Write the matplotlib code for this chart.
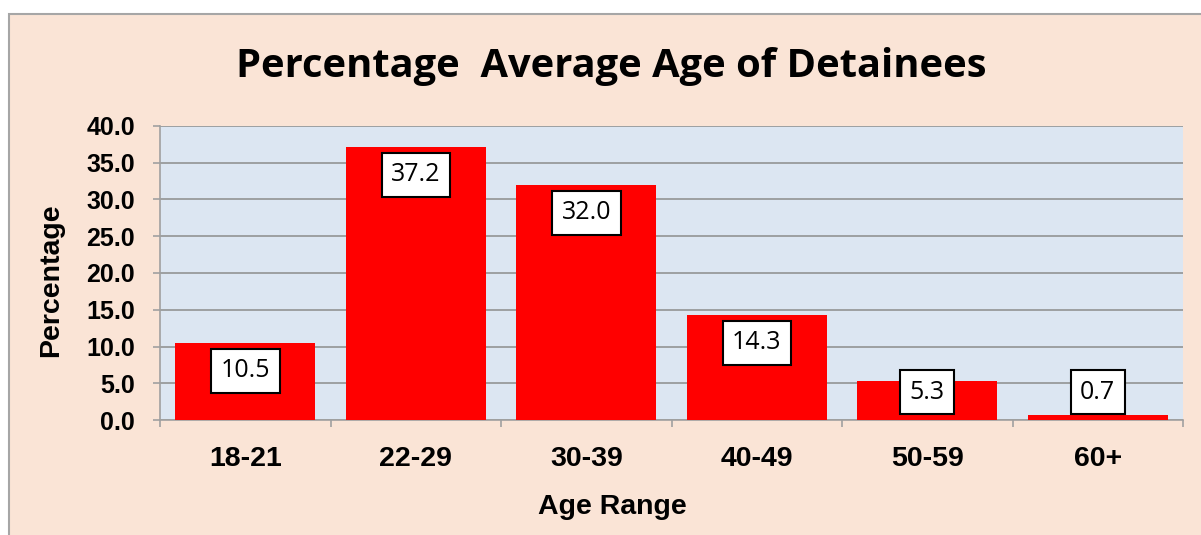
import matplotlib
matplotlib.use("Agg")
import matplotlib.pyplot as plt
from matplotlib.patches import Rectangle

categories = ["18-21", "22-29", "30-39", "40-49", "50-59", "60+"]
values = [10.5, 37.2, 32.0, 14.3, 5.3, 0.7]
yticks = [0, 5, 10, 15, 20, 25, 30, 35, 40]
title = "Percentage  Average Age of Detainees"
xlabel = "Age Range"
ylabel = "Percentage"

W, H = 1201, 535
fig = plt.figure(figsize=(W / 100, H / 100), dpi=100, facecolor="white")

# peach chart area with gray border
bg = Rectangle((9 / W, -0.01), 1.02, 1 - 14 / H + 0.01, transform=fig.transFigure,
               facecolor="#FAE4D6", edgecolor="#A6A6A6", linewidth=1.5, zorder=-10)
fig.patches.append(bg)

left, right, top, bottom = 160, 1183, 126, 420
ax = fig.add_axes([left / W, 1 - bottom / H, (right - left) / W, (bottom - top) / H])
ax.set_facecolor("#DCE6F2")

x = list(range(len(categories)))
ax.bar(x, values, width=0.82, color="#FF0000", zorder=3)

ax.set_xlim(-0.5, len(categories) - 0.5)
ax.set_ylim(0, 40)
ax.set_yticks(yticks)
ax.set_yticklabels([f"{v:.1f}" for v in yticks])
ax.yaxis.grid(True, color="#8C8C8C", linewidth=1.1, zorder=1)
ax.set_axisbelow(True)

# x ticks at category boundaries, labels at centres
ax.set_xticks([i - 0.5 for i in range(len(categories) + 1)])
ax.set_xticklabels([])
ax.set_xticks(x, minor=True)
ax.set_xticklabels(categories, minor=True)
ax.tick_params(axis="x", which="major", length=5, width=1.2, color="#A0A0A0", direction="out")
ax.tick_params(axis="x", which="minor", length=0, pad=19)
ax.tick_params(axis="y", length=5, width=1.2, color="#A0A0A0", direction="out", pad=13)

for lbl in ax.get_xticklabels(minor=True):
    lbl.set_fontfamily("Liberation Sans")
    lbl.set_fontweight("bold")
    lbl.set_fontsize(20.5)
for lbl in ax.get_yticklabels():
    lbl.set_fontfamily("Liberation Sans")
    lbl.set_fontweight("bold")
    lbl.set_fontsize(18)

for s in ["top", "right"]:
    ax.spines[s].set_visible(False)
for s in ["left", "bottom"]:
    ax.spines[s].set_color("#A0A0A0")
    ax.spines[s].set_linewidth(1.2)

# data labels (inside end, clamped near axis)
for xi, v in zip(x, values):
    ypos = max(v - 3.8, 3.8)
    ax.text(xi, ypos, f"{v:.1f}", ha="center", va="center", fontsize=18,
            fontfamily="Open Sans", color="black", zorder=5,
            bbox=dict(boxstyle="square,pad=0.38", facecolor="white", edgecolor="black", linewidth=1.5))

fig.text(611 / W, 1 - 67 / H, title, ha="center", va="center", fontsize=28.7,
         fontweight="bold", fontfamily="Open Sans")
fig.text(612 / W, 1 - 507 / H, xlabel, ha="center", va="center", fontsize=20.5,
         fontweight="bold", fontfamily="Liberation Sans")
fig.text(51 / W, 1 - 280 / H, ylabel, ha="center", va="center", fontsize=20.5,
         fontweight="bold", fontfamily="Liberation Sans", rotation=90)

fig.savefig("out.png", dpi=100, facecolor="white")
